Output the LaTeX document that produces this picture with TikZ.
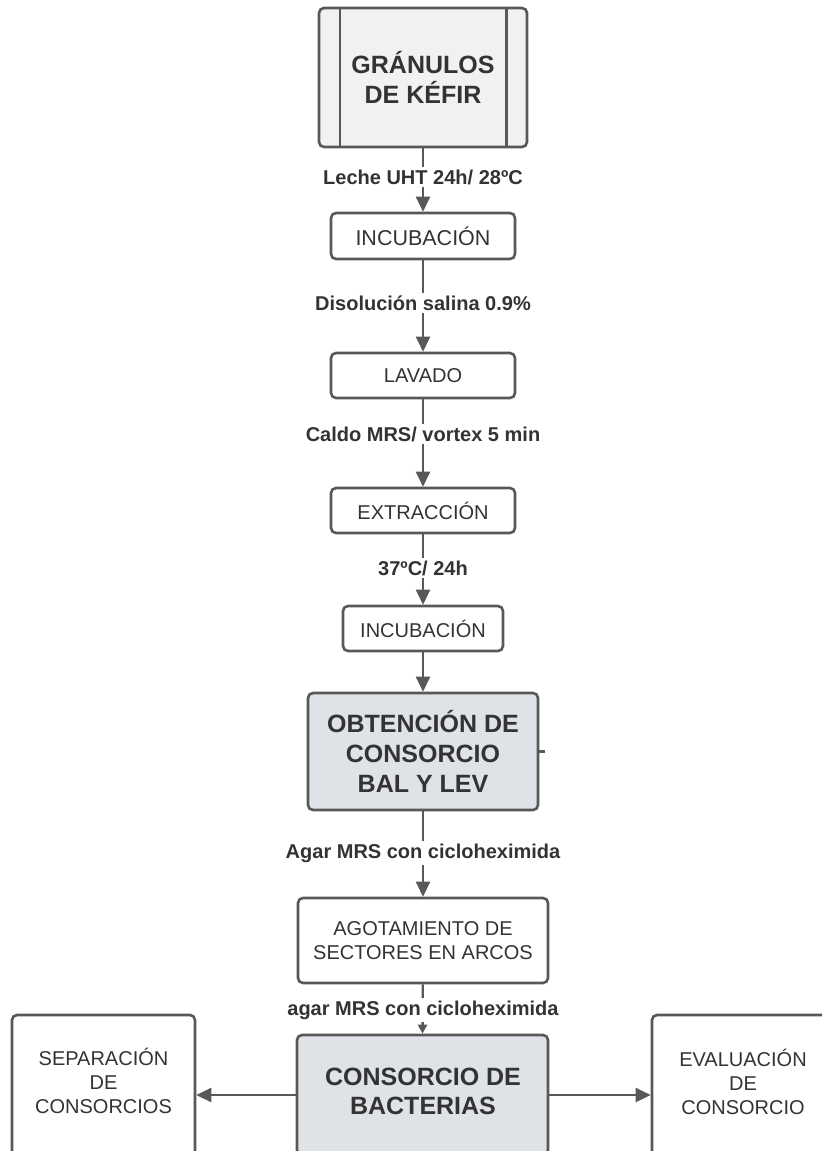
\documentclass[tikz,border=0pt]{standalone}
\usepackage{fontspec}
\setmainfont{Liberation Sans}
\usetikzlibrary{arrows.meta}
\definecolor{linegray}{RGB}{88,88,88}
\definecolor{textgray}{RGB}{51,51,51}
\definecolor{softgray}{RGB}{241,241,241}
\definecolor{bluegray}{RGB}{223,226,230}
\begin{document}
\begin{tikzpicture}[x=1pt,y=-1pt,
  box/.style={draw=linegray, line width=2.6pt, rounded corners=5pt, fill=white,
              text=textgray, align=center, inner sep=0pt},
  plain/.style={font=\fontsize{20}{24}\selectfont},
  heavy/.style={font=\fontsize{25}{30}\selectfont\bfseries},
  boxtext/.style={text=textgray, align=center, inner sep=0pt},
  lbl/.style={fill=white, text=textgray, inner xsep=2pt, inner ysep=3pt,
              font=\fontsize{20}{23}\selectfont\bfseries},
  edge/.style={draw=linegray, line width=2.4pt},
  arr/.style={edge, -{Triangle[length=15pt,width=14pt]}},
  smallarr/.style={edge, -{Triangle[length=9pt,width=9pt]}},
]
\fill[white] (0,0) rectangle (822,1151);
\useasboundingbox (0,0) rectangle (822,1151);
\begin{scope}
\clip (0,0) rectangle (822,1151);

% main column of process steps
\node[box, fill=softgray, heavy, minimum width=208pt, minimum height=139pt] (gran) at (423,77.5) {GRÁNULOS\\DE KÉFIR};
\draw[edge] ([xshift=22pt]gran.north west) -- ([xshift=22pt]gran.south west);
\draw[edge] ([xshift=-22pt]gran.north east) -- ([xshift=-22pt]gran.south east);

\node[box, font=\fontsize{21.5}{26}\selectfont, minimum width=184pt, minimum height=46pt] (inc1) at (423,236) {INCUBACIÓN};
\node[box, plain, minimum width=184pt, minimum height=45pt] (lav) at (423,375.5) {LAVADO};
\node[box, plain, minimum width=184pt, minimum height=45pt] (ext) at (423,510.5) {EXTRACCIÓN};
\node[box, plain, minimum width=160pt, minimum height=45pt] (inc2) at (423,628.5) {INCUBACIÓN};
\node[box, fill=bluegray, heavy, minimum width=230pt, minimum height=117pt] (obt) at (423,751.5) {OBTENCIÓN DE\\CONSORCIO\\BAL Y LEV};
\node[box, plain, minimum width=250pt, minimum height=85pt] (ago) at (423,940.5) {AGOTAMIENTO DE\\SECTORES EN ARCOS};

% bottom row (boxes run past the lower edge)
\node[box, fill=bluegray, minimum width=251pt, minimum height=120pt] (cons) at (422.5,1095) {};
\node[boxtext, font=\fontsize{25}{29}\selectfont\bfseries] (constxt) at (423,1091) {CONSORCIO DE\\BACTERIAS};
\node[box, minimum width=183pt, minimum height=160pt] (sep) at (103.5,1095) {};
\node[boxtext, plain] (septxt) at (103.5,1081) {SEPARACIÓN\\DE\\CONSORCIOS};
\node[box, minimum width=182pt, minimum height=160pt] (eva) at (743,1095) {};
\node[boxtext, plain] (evatxt) at (743,1082) {EVALUACIÓN\\DE\\CONSORCIO};

% connectors
\draw[arr] (gran) -- (inc1);
\draw[arr] (inc1) -- (lav);
\draw[arr] (lav) -- (ext);
\draw[arr] (ext) -- (inc2);
\draw[arr] (inc2) -- (obt);
\draw[arr] (obt) -- (ago);
\draw[smallarr] (ago) -- (cons.north);
\coordinate (stub) at (545,751.5);
\draw[edge] (obt.east) -- (stub);
\draw[arr] (cons.west) -- (sep.east);
\draw[arr] (cons.east) -- (eva.west);

% connector labels
\node[lbl] (l1) at (423,177) {Leche UHT 24h/ 28ºC};
\node[lbl] (l2) at (423,303) {Disolución salina 0.9\%};
\node[lbl] (l3) at (423,434) {Caldo MRS/ vortex 5 min};
\node[lbl] (l4) at (423,568) {37ºC/ 24h};
\node[lbl] (l5) at (423,853) {Agar MRS con cicloheximida};
\node[lbl] (l6) at (423,1010) {agar MRS con cicloheximida};
\end{scope}
\end{tikzpicture}
\end{document}
